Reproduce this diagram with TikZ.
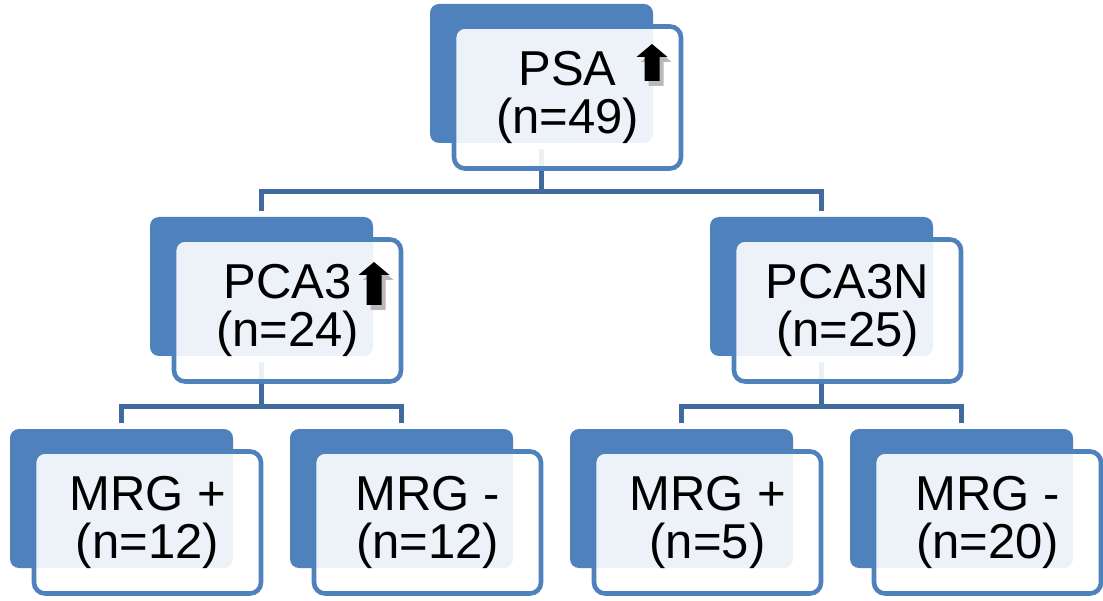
\documentclass[tikz,border=0pt]{standalone}
\usepackage{fontspec}
\setmainfont{Liberation Sans}
\usepackage{tikz}
\usetikzlibrary{positioning,calc}
\definecolor{cardblue}{HTML}{4F81BD}
\definecolor{branchblue}{HTML}{416B9E}
\tikzset{
  backcard/.style={fill=cardblue,rounded corners=9pt,minimum width=223pt,minimum height=139pt,inner sep=0},
  frontcard/.style={draw=cardblue,line width=4.6pt,fill=white,fill opacity=0.9,text opacity=1,
    rounded corners=11pt,minimum width=227pt,minimum height=142pt,inner sep=0,align=center,
    font=\fontsize{49}{48}\selectfont},
  branch/.style={draw=branchblue,line width=5pt,shorten <=6pt,shorten >=6pt},
}
\newcommand{\backcard}[3]{% x, y, name   (dark card behind)
  \node[backcard] (#3) at (#1,#2) {};}
\newcommand{\frontcard}[3]{% back card, name, text   (light card in front)
  \node[frontcard] (#2) at ($(#1)+(26,24)$) {#3};}
\newcommand{\blockup}[4]{% x, y of foot, height, colour   (block arrow)
  \fill[#4] (#1-7.5,#2) -- (#1+7.5,#2) -- (#1+7.5,#2-#3+13) -- (#1+15.5,#2-#3+13)
    -- (#1,#2-#3) -- (#1-15.5,#2-#3+13) -- (#1-7.5,#2-#3+13) -- cycle;}
\newcommand{\risearrow}[3]{% x, y of foot, height   (arrow with its shadow)
  \blockup{#1+4}{#2+5}{#3}{gray!55}
  \blockup{#1}{#2}{#3}{black}}

\begin{document}
\begin{tikzpicture}[x=1pt,y=-1pt,>=stealth]
  \useasboundingbox (0,0) rectangle (1103,601);
  % back cards
  \backcard{541.5}{73.5}{psab}
  \backcard{261.5}{286.5}{pcab}
  \backcard{821.5}{286.5}{pcanb}
  \backcard{121.5}{498.5}{mrgab}
  \backcard{401.5}{498.5}{mrgbb}
  \backcard{681.5}{498.5}{mrgcb}
  \backcard{961.5}{498.5}{mrgdb}
  % branches
  \draw[branch] (psab.south) -- ++(0,48) -| (pcab.north);
  \draw[branch] (psab.south) -- ++(0,48) -| (pcanb.north);
  \draw[branch] (pcab.south) -- ++(0,50) -| (mrgab.north);
  \draw[branch] (pcab.south) -- ++(0,50) -| (mrgbb.north);
  \draw[branch] (pcanb.south) -- ++(0,50) -| (mrgcb.north);
  \draw[branch] (pcanb.south) -- ++(0,50) -| (mrgdb.north);
  % front cards
  \frontcard{psab}{psa}{PSA\\(n=49)}
  \frontcard{pcab}{pca}{PCA3\\(n=24)}
  \frontcard{pcanb}{pcan}{PCA3N\\(n=25)}
  \frontcard{mrgab}{mrga}{MRG +\\(n=12)}
  \frontcard{mrgbb}{mrgb}{MRG -\\(n=12)}
  \frontcard{mrgcb}{mrgc}{MRG +\\(n=5)}
  \frontcard{mrgdb}{mrgd}{MRG -\\(n=20)}
  % rise markers
  \risearrow{652}{81}{37}
  \risearrow{374}{305}{43}
\end{tikzpicture}
\end{document}
